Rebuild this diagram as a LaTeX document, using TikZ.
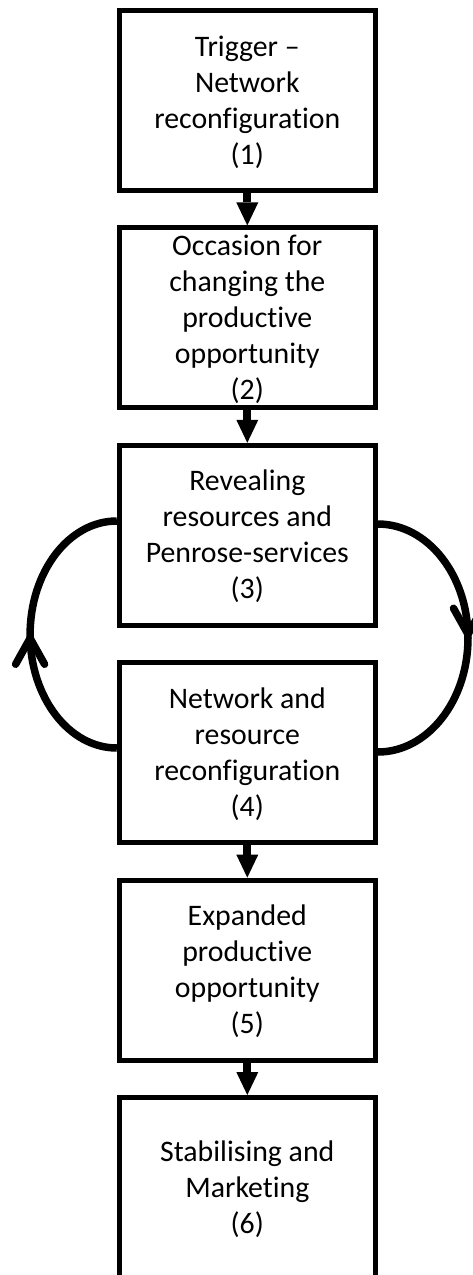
\documentclass[tikz,border=0pt]{standalone}
\usepackage{fontspec}
\setmainfont{Carlito}[Ligatures={NoCommon,NoRequired,NoContextual}]
\usetikzlibrary{arrows.meta,decorations.markings,calc}
\newcommand\mystrut{\rule[-8.5pt]{0pt}{36pt}}
\begin{document}
\begin{tikzpicture}[x=1pt,y=-1pt,
  box/.style={draw=black, line width=5pt, minimum width=256pt, minimum height=180pt,
    inner sep=0pt, align=center, font=\fontsize{29.8}{36}\selectfont},
  flow/.style={line width=8pt, -{Triangle[length=23pt,width=22pt,line width=0pt]}},
  loopline/.style={line width=7.5pt,
    decoration={markings, mark=at position 0.5 with {\arrow{Straight Barb[round,length=26pt,width=29pt]}}},
    postaction={decorate}}]
\clip (0,0) rectangle (473,1275);
\node[box] (b1) at (247.3,100.5) {\mystrut Trigger –\\\mystrut Network\\\mystrut reconfiguration\\\mystrut (1)};
\node[box] (b2) at (247.3,317.9) {\mystrut Occasion for\\\mystrut changing the\\\mystrut productive\\\mystrut opportunity\\\mystrut (2)};
\node[box] (b3) at (247.3,535.3) {\mystrut Revealing\\\mystrut resources and\\\mystrut Penrose-services\\\mystrut (3)};
\node[box] (b4) at (247.3,752.7) {\mystrut Network and\\\mystrut resource\\\mystrut reconfiguration\\\mystrut (4)};
\node[box] (b5) at (247.3,970.1) {\mystrut Expanded\\\mystrut productive\\\mystrut opportunity\\\mystrut (5)};
\node[box] (b6) at (247.3,1187.5) {\mystrut Stabilising and\\\mystrut Marketing\\\mystrut (6)};
\draw[flow] (b1.south) -- (b2.north);
\draw[flow] (b2.south) -- (b3.north);
\draw[flow] (b4.south) -- (b5.north);
\draw[flow] (b5.south) -- (b6.north);
\draw[loopline] ($(b4.west)+(0,-4.7)$) arc[start angle=90, end angle=270, x radius=86.7, y radius=113.5];
\draw[loopline] ($(b3.east)+(0,-11.3)$) arc[start angle=270, end angle=450, x radius=90.2, y radius=114];
\end{tikzpicture}
\end{document}
